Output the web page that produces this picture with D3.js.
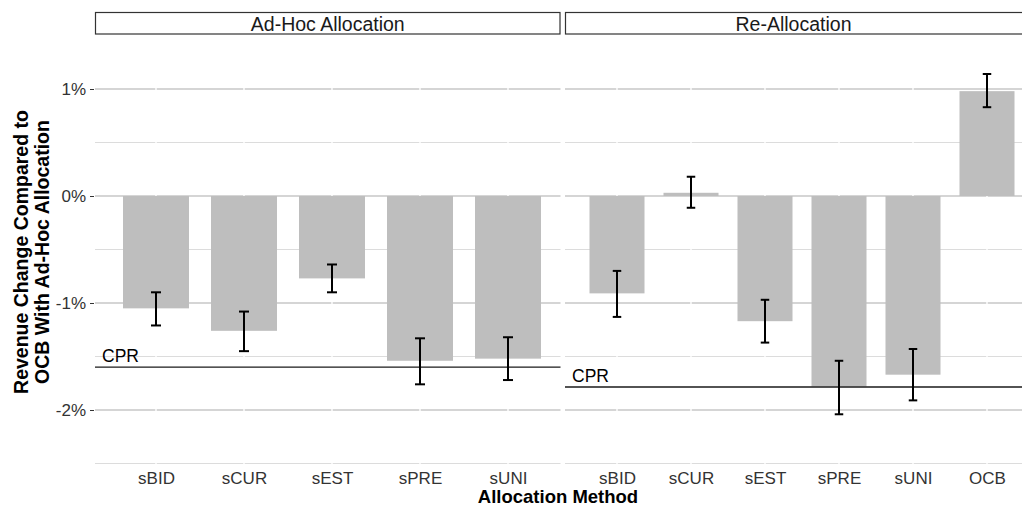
<!DOCTYPE html>
<html>
<head>
<meta charset="utf-8">
<script src="https://cdn.jsdelivr.net/npm/d3@7"></script>
<style>
  html, body { margin: 0; padding: 0; background: #fff; }
  svg { display: block; font-family: "Liberation Sans", Arial, sans-serif; }
</style>
</head>
<body>
<svg id="chart" width="1022" height="506"></svg>
<script>
// Revenue change per allocation method, in percent, with confidence bounds
const adHocMethods = ["sBID", "sCUR", "sEST", "sPRE", "sUNI"];
const adHocMean    = [-1.05, -1.26, -0.77, -1.54, -1.52];
const adHocUpper   = [-0.90, -1.08, -0.64, -1.33, -1.32];
const adHocLower   = [-1.21, -1.45, -0.90, -1.76, -1.72];
const adHocCPR     = -1.60;

const reMethods = ["sBID", "sCUR", "sEST", "sPRE", "sUNI", "OCB"];
const reMean    = [-0.91, 0.03, -1.17, -1.78, -1.67, 0.98];
const reUpper   = [-0.70, 0.18, -0.97, -1.54, -1.43, 1.14];
const reLower   = [-1.13, -0.11, -1.37, -2.04, -1.91, 0.83];
const reCPR     = -1.785;

const yMajorTicks = [-2, -1, 0, 1];
const yMinorTicks = [-2.5, -1.5, -0.5, 0.5];
const stripLabels = ["Ad-Hoc Allocation", "Re-Allocation"];

const svg = d3.select("#chart");

const panelTop = 40, panelBottom = 470;
const y = d3.scaleLinear().domain([-2, 1]).range([410, 89]);

const panels = [
  { label: stripLabels[0], methods: adHocMethods, mean: adHocMean, upper: adHocUpper, lower: adHocLower,
    cpr: adHocCPR, left: 95, right: 560.5, first: 156, last: 508, barW: 66, capW: 10 },
  { label: stripLabels[1], methods: reMethods, mean: reMean, upper: reUpper, lower: reLower,
    cpr: reCPR, left: 565, right: 1030, first: 617, last: 987, barW: 55, capW: 8.5 }
];

panels.forEach(p => {
  const x = d3.scalePoint().domain(p.methods).range([p.first, p.last]);
  const g = svg.append("g");
  const rows = p.methods.map((m, i) => ({ m, mean: p.mean[i], hi: p.upper[i], lo: p.lower[i] }));

  // minor and major horizontal grid
  g.selectAll("line.minor").data(yMinorTicks).join("line")
    .attr("x1", p.left).attr("x2", p.right)
    .attr("y1", d => y(d)).attr("y2", d => y(d))
    .attr("stroke", "#dcdcdc").attr("stroke-width", 1.1);
  g.selectAll("line.major").data(yMajorTicks).join("line")
    .attr("x1", p.left).attr("x2", p.right)
    .attr("y1", d => y(d)).attr("y2", d => y(d))
    .attr("stroke", "#ababab").attr("stroke-width", 1.1);
  // vertical grid in white at each category
  g.selectAll("line.vgrid").data(p.methods).join("line")
    .attr("x1", d => x(d)).attr("x2", d => x(d))
    .attr("y1", panelTop).attr("y2", panelBottom)
    .attr("stroke", "#fff").attr("stroke-width", 1.4);

  // bars
  g.selectAll("rect.bar").data(rows).join("rect")
    .attr("x", d => x(d.m) - p.barW / 2)
    .attr("width", p.barW)
    .attr("y", d => y(Math.max(0, d.mean)))
    .attr("height", d => Math.abs(y(d.mean) - y(0)))
    .attr("fill", "#bebebe");

  // CPR reference line
  g.append("line")
    .attr("x1", p.left).attr("x2", p.right)
    .attr("y1", y(p.cpr)).attr("y2", y(p.cpr))
    .attr("stroke", "#1a1a1a").attr("stroke-width", 1.3);
  g.append("text")
    .attr("x", p.left + 7).attr("y", y(p.cpr) - 5)
    .attr("font-size", 17.5).attr("fill", "#000").text("CPR");

  // error bars
  const eb = g.selectAll("g.err").data(rows).join("g").attr("stroke", "#000").attr("stroke-width", 2);
  eb.append("line").attr("x1", d => x(d.m)).attr("x2", d => x(d.m))
    .attr("y1", d => y(d.hi)).attr("y2", d => y(d.lo));
  eb.append("line").attr("x1", d => x(d.m) - p.capW / 2).attr("x2", d => x(d.m) + p.capW / 2)
    .attr("y1", d => y(d.hi)).attr("y2", d => y(d.hi));
  eb.append("line").attr("x1", d => x(d.m) - p.capW / 2).attr("x2", d => x(d.m) + p.capW / 2)
    .attr("y1", d => y(d.lo)).attr("y2", d => y(d.lo));

  // strip
  g.append("rect")
    .attr("x", p.left + 0.5).attr("y", 12.5)
    .attr("width", p.right - p.left - 1).attr("height", 21.5)
    .attr("fill", "#fff").attr("stroke", "#333").attr("stroke-width", 1.2);
  g.append("text")
    .attr("x", (p.left + Math.min(p.right, 1022)) / 2).attr("y", 30.5)
    .attr("text-anchor", "middle").attr("font-size", 19.5).attr("fill", "#1a1a1a")
    .text(p.label);

  // x axis labels
  const xAxis = d3.axisBottom(x).tickSize(0).tickPadding(0);
  const xa = g.append("g").attr("transform", `translate(0,${panelBottom})`).call(xAxis);
  xa.select(".domain").remove();
  xa.selectAll("text").attr("font-size", 17).attr("fill", "#333")
    .attr("font-family", "Liberation Sans, Arial, sans-serif")
    .attr("dy", "0").attr("y", 13.5);
});

// y axis on the left panel
const yAxis = d3.axisLeft(y).tickValues(yMajorTicks).tickSize(4).tickPadding(4)
  .tickFormat(d => d + "%");
const ya = svg.append("g").attr("transform", "translate(94,0)").call(yAxis);
ya.select(".domain").remove();
ya.selectAll(".tick line").attr("stroke", "#333");
ya.selectAll("text").attr("font-size", 17).attr("fill", "#333")
  .attr("font-family", "Liberation Sans, Arial, sans-serif");

// axis titles
svg.append("text")
  .attr("x", 558).attr("y", 502.5)
  .attr("text-anchor", "middle").attr("font-size", 18.5).attr("font-weight", "bold")
  .text("Allocation Method");

const yTitle = svg.append("text")
  .attr("transform", "translate(0,252) rotate(-90)")
  .attr("text-anchor", "middle").attr("font-size", 19.5).attr("font-weight", "bold");
yTitle.append("tspan").attr("x", 0).attr("y", 28).text("Revenue Change Compared to");
yTitle.append("tspan").attr("x", 0).attr("y", 49).text("OCB With Ad-Hoc Allocation");
</script>
</body>
</html>
